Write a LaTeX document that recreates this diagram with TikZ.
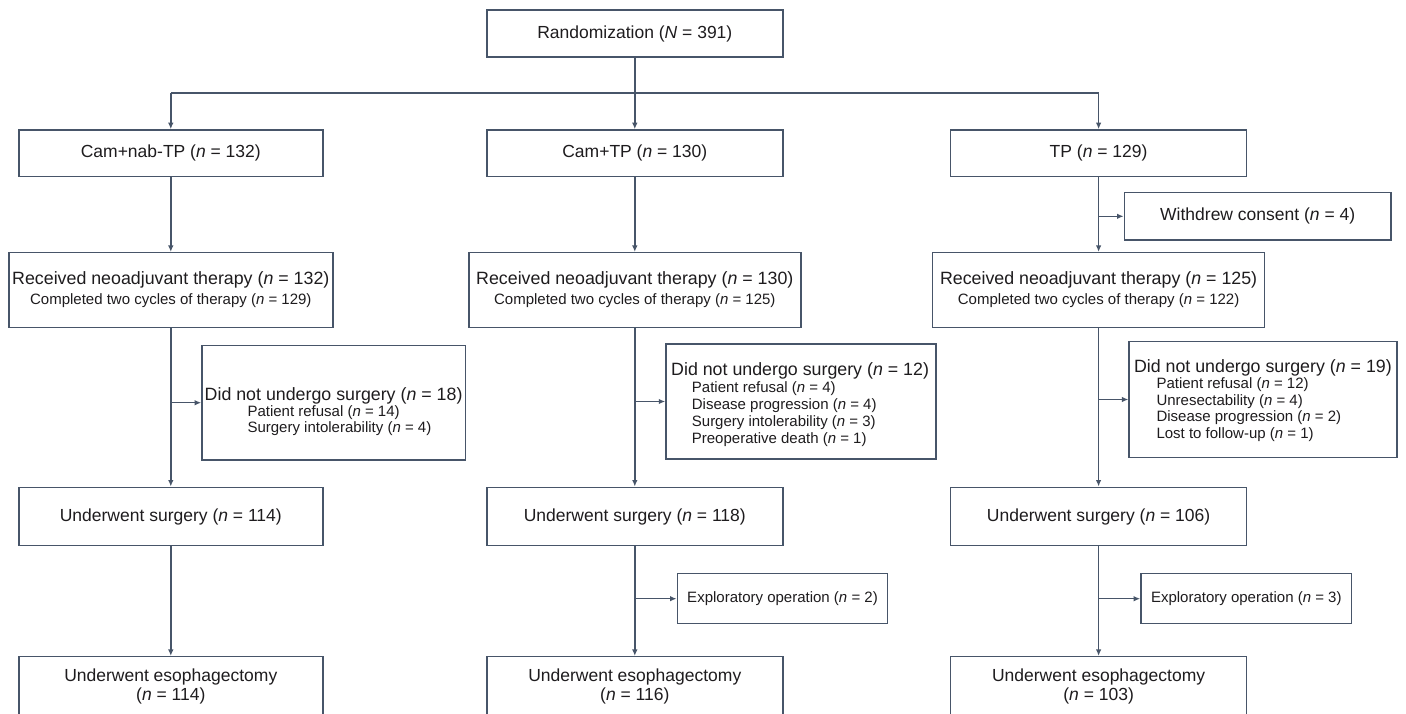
\documentclass[tikz,border=0pt]{standalone}
\usepackage{fontspec}
\setmainfont{Liberation Sans}
\usetikzlibrary{arrows.meta}
\definecolor{linec}{RGB}{71,85,105}
\definecolor{txtc}{RGB}{30,28,30}
\newcommand{\bigf}{\fontsize{17.5}{21}\selectfont}
\newcommand{\ttlf}{\fontsize{17.8}{21}\selectfont}
\newcommand{\smlf}{\fontsize{15}{18}\selectfont}
\newcommand{\nn}{\textit{n}}
\tikzset{
  box/.style={draw=linec, line width=1.5pt, inner sep=0pt, text=txtc, font=\bigf},
  conn/.style={draw=linec, line width=1.5pt, -{Latex[length=6.5pt,width=5.5pt]}},
  plain/.style={draw=linec, line width=1.5pt},
  lbl/.style={inner sep=0pt, text=txtc, anchor=base west},
  clbl/.style={inner sep=0pt, text=txtc, anchor=base},
}
\begin{document}
\begin{tikzpicture}[x=1pt,y=-1pt]
\useasboundingbox (0,0) rectangle (1406,713);
\fill[white] (0,0) rectangle (1406,713);
\clip (0,0) rectangle (1406,713);
% top
\node[box, minimum width=296pt, minimum height=47pt] (rand) at (634.8,33.5) {Randomization (\textit{N} = 391)};
% arms
\node[box, minimum width=304pt, minimum height=46.7pt] (arm1) at (170.8,153.3) {Cam+nab-TP (\nn{} = 132)};
\node[box, minimum width=296pt, minimum height=46.7pt] (arm2) at (634.8,153.3) {Cam+TP (\nn{} = 130)};
\node[box, minimum width=296pt, minimum height=46.7pt] (arm3) at (1098.6,153.3) {TP (\nn{} = 129)};
\node[box, minimum width=266.7pt, minimum height=47.3pt] (wd) at (1257.7,216.3) {Withdrew consent (\nn{} = 4)};
% received
\node[box, minimum width=324pt, minimum height=74.6pt] (rec1) at (170.8,290) {};
\node[box, minimum width=332pt, minimum height=74.6pt] (rec2) at (634.8,290) {};
\node[box, minimum width=332pt, minimum height=74.6pt] (rec3) at (1098.6,290) {};
\node[clbl, font=\ttlf] (rec1a) at (170.8,284.5) {Received neoadjuvant therapy (\nn{} = 132)};
\node[clbl, font=\smlf] (rec1b) at (170.8,304) {Completed two cycles of therapy (\nn{} = 129)};
\node[clbl, font=\ttlf] (rec2a) at (634.8,284.5) {Received neoadjuvant therapy (\nn{} = 130)};
\node[clbl, font=\smlf] (rec2b) at (634.8,304) {Completed two cycles of therapy (\nn{} = 125)};
\node[clbl, font=\ttlf] (rec3a) at (1098.6,284.5) {Received neoadjuvant therapy (\nn{} = 125)};
\node[clbl, font=\smlf] (rec3b) at (1098.6,304) {Completed two cycles of therapy (\nn{} = 122)};
% did not undergo surgery
\node[box, minimum width=263.5pt, minimum height=114.5pt] (dn1) at (333.7,402.7) {};
\node[box, minimum width=270pt, minimum height=115pt] (dn2) at (801,401.5) {};
\node[box, minimum width=267.7pt, minimum height=115.6pt] (dn3) at (1263,399.5) {};
\node[lbl, font=\ttlf] (dn1t) at (204.5,400) {Did not undergo surgery (\nn{} = 18)};
\node[lbl, font=\smlf] (dn1a) at (247.3,416) {Patient refusal (\nn{} = 14)};
\node[lbl, font=\smlf] (dn1b) at (247.3,432) {Surgery intolerability (\nn{} = 4)};
\node[lbl, font=\ttlf] (dn2t) at (671,375) {Did not undergo surgery (\nn{} = 12)};
\node[lbl, font=\smlf] (dn2a) at (691.7,392.5) {Patient refusal (\nn{} = 4)};
\node[lbl, font=\smlf] (dn2b) at (691.7,409.5) {Disease progression (\nn{} = 4)};
\node[lbl, font=\smlf] (dn2c) at (691.7,426.5) {Surgery intolerability (\nn{} = 3)};
\node[lbl, font=\smlf] (dn2d) at (691.7,443.5) {Preoperative death (\nn{} = 1)};
\node[lbl, font=\ttlf] (dn3t) at (1133.8,372) {Did not undergo surgery (\nn{} = 19)};
\node[lbl, font=\smlf] (dn3a) at (1156.3,388.5) {Patient refusal (\nn{} = 12)};
\node[lbl, font=\smlf] (dn3b) at (1156.3,405) {Unresectability (\nn{} = 4)};
\node[lbl, font=\smlf] (dn3c) at (1156.3,421.5) {Disease progression (\nn{} = 2)};
\node[lbl, font=\smlf] (dn3d) at (1156.3,438.5) {Lost to follow-up (\nn{} = 1)};
% underwent surgery
\node[box, minimum width=304pt, minimum height=58.4pt] (surg1) at (170.8,516.5) {Underwent surgery (\nn{} = 114)};
\node[box, minimum width=296pt, minimum height=58.4pt] (surg2) at (634.8,516.5) {Underwent surgery (\nn{} = 118)};
\node[box, minimum width=296pt, minimum height=58.4pt] (surg3) at (1098.6,516.5) {Underwent surgery (\nn{} = 106)};
% exploratory
\node[box, font=\smlf, minimum width=210.4pt, minimum height=50pt] (exp2) at (782.5,598.7) {Exploratory operation (\nn{} = 2)};
\node[box, font=\smlf, minimum width=210.7pt, minimum height=50pt] (exp3) at (1246.3,598.7) {Exploratory operation (\nn{} = 3)};
% esophagectomy
\node[box, minimum width=304pt, minimum height=59.3pt] (eso1) at (170.8,686.35) {};
\node[box, minimum width=296pt, minimum height=59.3pt] (eso2) at (634.8,686.35) {};
\node[box, minimum width=296pt, minimum height=59.3pt] (eso3) at (1098.6,686.35) {};
\node[clbl, font=\bigf] (eso1a) at (170.8,681) {Underwent esophagectomy};
\node[clbl, font=\bigf] (eso1b) at (170.8,700) {(\nn{} = 114)};
\node[clbl, font=\bigf] (eso2a) at (634.8,681) {Underwent esophagectomy};
\node[clbl, font=\bigf] (eso2b) at (634.8,700) {(\nn{} = 116)};
\node[clbl, font=\bigf] (eso3a) at (1098.6,681) {Underwent esophagectomy};
\node[clbl, font=\bigf] (eso3b) at (1098.6,700) {(\nn{} = 103)};
% connectors
\coordinate (jl) at (170.8,93);
\coordinate (jr) at (1098.6,93);
\draw[conn] (rand.south) -- (arm2.north);
\draw[plain] (jl) -- (jr);
\draw[conn] (jl) -- (arm1.north);
\draw[conn] (jr) -- (arm3.north);
\draw[conn] (arm1.south) -- (rec1.north);
\draw[conn] (arm2.south) -- (rec2.north);
\draw[conn] (arm3.south) -- (rec3.north);
\draw[conn] (arm3.south |- wd.west) -- (wd.west);
\draw[conn] (rec1.south) -- (surg1.north);
\draw[conn] (rec2.south) -- (surg2.north);
\draw[conn] (rec3.south) -- (surg3.north);
\draw[conn] (rec1.south |- dn1.west) -- (dn1.west);
\draw[conn] (rec2.south |- dn2.west) -- (dn2.west);
\draw[conn] (rec3.south |- dn3.west) -- (dn3.west);
\draw[conn] (surg1.south) -- (eso1.north);
\draw[conn] (surg2.south) -- (eso2.north);
\draw[conn] (surg3.south) -- (eso3.north);
\draw[conn] (surg2.south |- exp2.west) -- (exp2.west);
\draw[conn] (surg3.south |- exp3.west) -- (exp3.west);
\end{tikzpicture}
\end{document}
